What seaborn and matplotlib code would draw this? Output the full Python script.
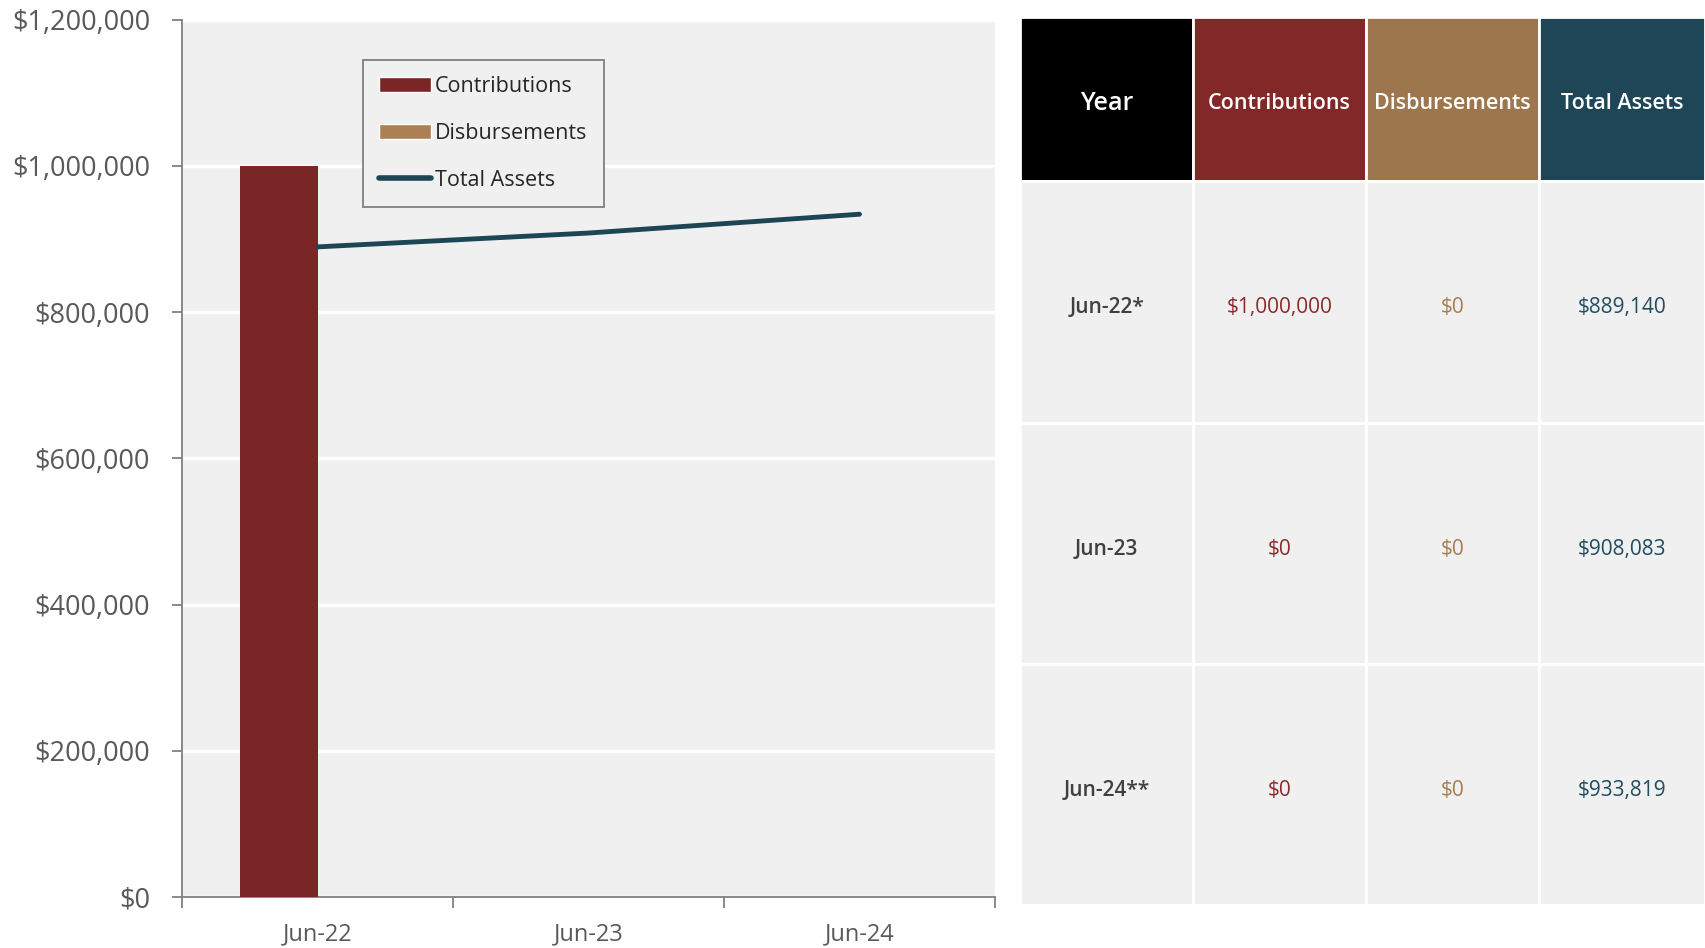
import matplotlib
matplotlib.use("Agg")
import matplotlib.pyplot as plt
from matplotlib.patches import Rectangle, Patch
from matplotlib.lines import Line2D
import pandas as pd
import seaborn as sns

# data
years = ["Jun-22", "Jun-23", "Jun-24"]
year_labels = ["Jun-22*", "Jun-23", "Jun-24**"]
contributions = [1000000, 0, 0]
disbursements = [0, 0, 0]
total_assets = [889140, 908083, 933819]

c_contrib = "#7b2626"
c_disb = "#ad7f55"
c_total = "#1d4655"
head_colors = ["#000000", "#822828", "#9e764d", "#1e4656"]
body_colors = ["#404040", "#8b2b2b", "#a87d50", "#1f4e5f"]

sns.set_style("white")
plt.rcParams["font.family"] = ["Open Sans", "DejaVu Sans"]

df = pd.DataFrame({
    "year": years * 2,
    "series": ["Contributions"] * 3 + ["Disbursements"] * 3,
    "value": contributions + disbursements,
})

W, H = 1705, 948
fig = plt.figure(figsize=(W / 100, H / 100), dpi=100)

# ---- chart ----
ax = fig.add_axes([182 / W, (H - 897) / H, (995 - 182) / W, (897 - 19.6) / H])
ax.set_facecolor("#f0f0f0")
sns.barplot(data=df, x="year", y="value", hue="series", order=years,
            palette=[c_contrib, c_disb], width=0.57, saturation=1,
            dodge=True, legend=False, ax=ax, zorder=3, linewidth=0)
sns.lineplot(x=list(range(len(years))), y=total_assets, color=c_total,
             linewidth=3.5, ax=ax, zorder=4, solid_capstyle="round")

ax.set_xlim(-0.5, 2.5)
ax.set_ylim(0, 1200000)
ax.set_yticks(range(0, 1200001, 200000))
ax.set_yticklabels([f"${v:,.0f}" for v in range(0, 1200001, 200000)])
ax.set_xticks([-0.5, 0.5, 1.5, 2.5])
ax.set_xticklabels([])
ax.set_xticks(range(len(years)), minor=True)
ax.set_xticklabels(years, minor=True)
ax.tick_params(axis="x", which="major", bottom=True, length=8, width=1.3, color="#808080")
ax.tick_params(axis="x", which="minor", bottom=True, length=0, pad=18, labelsize=17,
               labelcolor="#595959")
ax.tick_params(axis="y", left=True, length=7, width=1.3, color="#808080", pad=16,
               labelsize=19.5, labelcolor="#595959")
ax.set_xlabel("")
ax.set_ylabel("")
ax.yaxis.grid(True, color="white", linewidth=2.5)
ax.set_axisbelow(True)
for s in ["top", "right"]:
    ax.spines[s].set_visible(False)
for s in ["left", "bottom"]:
    ax.spines[s].set_color("#808080")
    ax.spines[s].set_linewidth(1.3)

handles = [
    Patch(facecolor=c_contrib, label="Contributions"),
    Patch(facecolor=c_disb, label="Disbursements"),
    Line2D([], [], color=c_total, linewidth=4, solid_capstyle="round", label="Total Assets"),
]
leg = ax.legend(handles=handles, loc="upper left", bbox_to_anchor=(0.2226, 0.954),
                borderaxespad=0, fontsize=15.5, frameon=True, fancybox=False,
                edgecolor="#808080", facecolor="#f0f0f0", framealpha=1,
                handlelength=2.4, handletextpad=0.2, labelspacing=1.2,
                borderpad=0.75)
leg.get_frame().set_linewidth(1.3)

# ---- table ----
tx = fig.add_axes([0, 0, 1, 1], zorder=5)
tx.set_xlim(0, W)
tx.set_ylim(H, 0)
tx.axis("off")

col_edges = [1020, 1193, 1366, 1539, 1705]
row_edges = [17, 180.5, 423, 664, 905]
headers = ["Year", "Contributions", "Disbursements", "Total Assets"]
head_sizes = [18, 15.5, 15.5, 15.5]
rows = [[year_labels[i], f"${contributions[i]:,.0f}", f"${disbursements[i]:,.0f}",
         f"${total_assets[i]:,.0f}"] for i in range(len(years))]

for j in range(4):
    x0, x1 = col_edges[j], col_edges[j + 1]
    tx.add_patch(Rectangle((x0, row_edges[0]), x1 - x0, row_edges[1] - row_edges[0],
                           facecolor=head_colors[j], edgecolor="white", linewidth=2))
    tx.text((x0 + x1) / 2, (row_edges[0] + row_edges[1]) / 2 + 5, headers[j],
            ha="center", va="center", color="white", fontsize=head_sizes[j],
            fontweight="semibold")
    for i in range(len(rows)):
        y0, y1 = row_edges[i + 1], row_edges[i + 2]
        tx.add_patch(Rectangle((x0, y0), x1 - x0, y1 - y0,
                               facecolor="#f0f0f0", edgecolor="white", linewidth=2))
        tx.text((x0 + x1) / 2, (y0 + y1) / 2 + 6, rows[i][j], ha="center", va="center",
                color=body_colors[j], fontsize=15,
                fontweight="semibold" if j == 0 else "normal")

fig.savefig("out.png", dpi=100)
